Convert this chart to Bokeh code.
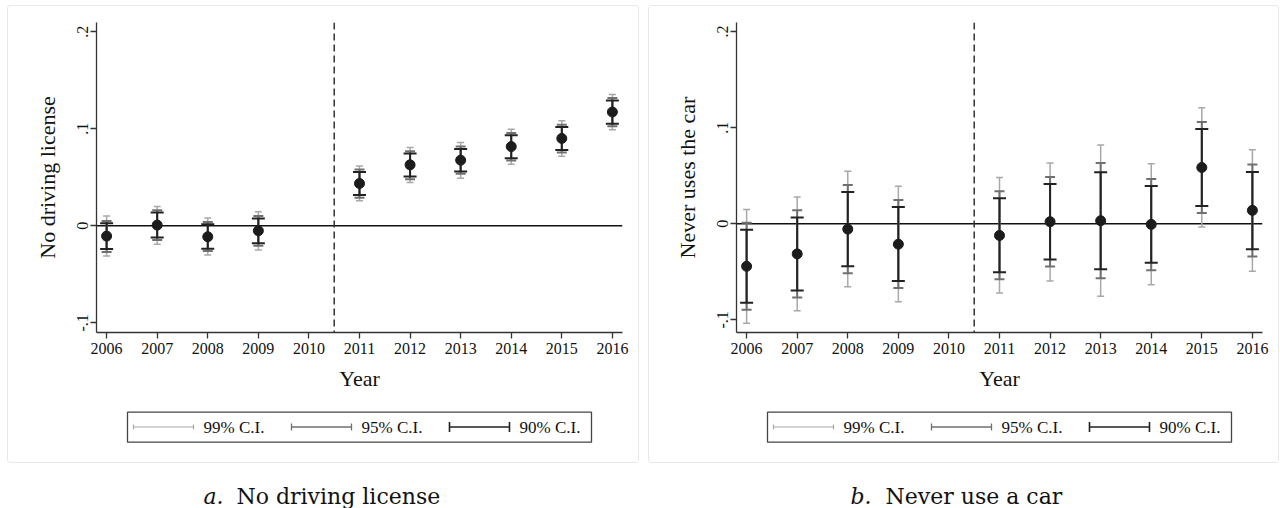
from bokeh.plotting import figure
from bokeh.layouts import row, column
from bokeh.models import (ColumnDataSource, Whisker, TeeHead, Span, Range1d, FixedTicker)
from bokeh.core.properties import value
from bokeh.embed import file_html
from bokeh.resources import INLINE

# ---------------- data ----------------
years = [2006, 2007, 2008, 2009, 2011, 2012, 2013, 2014, 2015, 2016]
xticks = [2006, 2007, 2008, 2009, 2010, 2011, 2012, 2013, 2014, 2015, 2016]
ytick_vals = [-0.1, 0.0, 0.1, 0.2]
ytick_labels = ["-.1", "0", ".1", ".2"]
ci_labels = ["99% C.I.", "95% C.I.", "90% C.I."]

# panel a: No driving license
coef_a = [-0.0106, 0.0007, -0.0113, -0.0051, 0.0436, 0.0628, 0.0676, 0.0816, 0.0900, 0.1172]
lo90_a = [-0.0240, -0.0120, -0.0236, -0.0180, 0.0318, 0.0508, 0.0560, 0.0696, 0.0782, 0.1052]
hi90_a = [0.0025, 0.0137, 0.0017, 0.0076, 0.0555, 0.0744, 0.0792, 0.0932, 0.1018, 0.1290]
lo95_a = [-0.0270, -0.0147, -0.0260, -0.0205, 0.0290, 0.0480, 0.0536, 0.0672, 0.0755, 0.1025]
hi95_a = [0.0050, 0.0160, 0.0038, 0.0100, 0.0580, 0.0768, 0.0816, 0.0957, 0.1042, 0.1316]
lo99_a = [-0.0310, -0.0190, -0.0300, -0.0250, 0.0257, 0.0447, 0.0490, 0.0635, 0.0717, 0.0990]
hi99_a = [0.0100, 0.0200, 0.0080, 0.0144, 0.0616, 0.0806, 0.0857, 0.0994, 0.1083, 0.1353]

# panel b: Never uses the car
coef_b = [-0.0443, -0.0314, -0.0056, -0.0213, -0.0122, 0.0021, 0.0031, -0.0007, 0.0585, 0.0139]
lo90_b = [-0.0822, -0.0694, -0.0443, -0.0596, -0.0505, -0.0373, -0.0474, -0.0407, 0.0184, -0.0265]
hi90_b = [-0.0063, 0.0066, 0.0330, 0.0174, 0.0264, 0.0414, 0.0536, 0.0393, 0.0985, 0.0539]
lo95_b = [-0.0896, -0.0767, -0.0516, -0.0669, -0.0578, -0.0446, -0.0568, -0.0484, 0.0111, -0.0342]
hi95_b = [0.0010, 0.0139, 0.0403, 0.0247, 0.0337, 0.0487, 0.0633, 0.0466, 0.1058, 0.0616]
lo99_b = [-0.1035, -0.0906, -0.0655, -0.0812, -0.0721, -0.0596, -0.0756, -0.0634, -0.0035, -0.0495]
hi99_b = [0.0149, 0.0278, 0.0546, 0.0390, 0.0480, 0.0633, 0.0818, 0.0623, 0.1208, 0.0769]

# ---------------- styles ----------------
SERIF = "Liberation Serif"
CAP_FONT = "DejaVu Serif"
C99, C95, C90 = "#a8a8a8", "#707070", "#222222"
BOX = "#e9e9e9"
BL, BR = 96, 18   # frame borders (px) shared by the stacked figures


def main_plot(coef, lo90, hi90, lo95, hi95, lo99, hi99, ylabel, yr):
    p = figure(width=640, height=400, output_backend="svg", toolbar_location=None,
               x_range=Range1d(2005.8, 2016.2), y_range=Range1d(*yr),
               min_border_left=BL, min_border_right=BR, min_border_top=22, min_border_bottom=68)
    p.outline_line_color = None
    p.xgrid.visible = False
    p.ygrid.visible = False
    p.xaxis.ticker = FixedTicker(ticks=xticks)
    p.yaxis.ticker = FixedTicker(ticks=ytick_vals)
    p.yaxis.major_label_overrides = {v: l for v, l in zip(ytick_vals, ytick_labels)}
    p.yaxis.major_label_orientation = "vertical"
    for ax in (p.xaxis[0], p.yaxis[0]):
        ax.axis_line_color = "#333333"
        ax.axis_line_width = 1.3
        ax.major_tick_line_color = "#333333"
        ax.major_tick_line_width = 1.3
        ax.major_tick_out = 6
        ax.major_tick_in = 0
        ax.minor_tick_out = 0
        ax.minor_tick_in = 0
        ax.major_label_text_font = SERIF
        ax.major_label_text_font_size = "16px"
        ax.major_label_text_color = "#111111"
        ax.axis_label_text_font = SERIF
        ax.axis_label_text_font_size = "22px"
        ax.axis_label_text_font_style = "normal"
        ax.axis_label_text_color = "#111111"
    p.xaxis.axis_label = "Year"
    p.yaxis.axis_label = ylabel
    p.xaxis.major_label_standoff = 4
    p.xaxis.axis_label_standoff = 9
    p.yaxis.major_label_standoff = 2
    p.yaxis.axis_label_standoff = 15

    p.add_layout(Span(location=0, dimension="width", line_color="#111111", line_width=1.5, level="underlay"))
    p.add_layout(Span(location=2010.5, dimension="height", line_color="#333333", line_width=1.5,
                      line_dash="7 4", level="underlay"))

    src = ColumnDataSource(dict(year=years, coef=coef, lo90=lo90, hi90=hi90,
                                lo95=lo95, hi95=hi95, lo99=lo99, hi99=hi99))
    for lo, hi, col, lw, cap in (("lo99", "hi99", C99, 1.5, 7),
                                 ("lo95", "hi95", C95, 2.0, 10),
                                 ("lo90", "hi90", C90, 2.0, 13)):
        p.add_layout(Whisker(source=src, base="year", lower=lo, upper=hi, dimension="height",
                             line_color=col, line_width=lw, level="underlay",
                             upper_head=TeeHead(size=cap, line_color=col, line_width=lw),
                             lower_head=TeeHead(size=cap, line_color=col, line_width=lw)))
    p.scatter("year", "coef", source=src, size=10, color="#1c1c1c")
    return p


def lower_plot(letter, caption, letter_x, caption_x):
    # pixel-like layout space for legend and caption (x in page px, y grows downward)
    q = figure(width=640, height=108, output_backend="svg", toolbar_location=None,
               x_axis_type=None, y_axis_type=None,
               x_range=Range1d(BL, 640 - BR), y_range=Range1d(108, 0),
               min_border_left=BL, min_border_right=BR, min_border_top=0, min_border_bottom=0)
    q.xgrid.visible = False
    q.ygrid.visible = False
    q.outline_line_color = None
    # legend box
    q.quad(left=[127], right=[591], top=[11.7], bottom=[41.7], fill_alpha=0,
           line_color="#444444", line_width=1.3)
    ly = 26.5
    starts = [133, 291, 449]
    for i, (col, lw, cap) in enumerate(zip((C99, C95, C90), (1.2, 1.3, 1.6), (5, 7, 10))):
        x0 = starts[i]
        x1 = x0 + 60
        q.segment(x0=[x0, x0, x1], y0=[ly, ly - cap / 2, ly - cap / 2],
                  x1=[x1, x0, x1], y1=[ly, ly + cap / 2, ly + cap / 2],
                  line_color=col, line_width=lw)
        q.text(x=[x1 + 10], y=[ly], text=[ci_labels[i]], text_font=value(SERIF),
               text_font_size="17px", text_color="#111111", text_baseline="middle",
               text_align="left")
    q.text(x=[letter_x], y=[96], text=[letter], text_font=value(CAP_FONT), text_font_size="22px",
           text_font_style="italic", text_color="#111111", text_baseline="alphabetic")
    q.text(x=[caption_x], y=[96], text=[caption], text_font=value(CAP_FONT), text_font_size="22px",
           text_color="#111111", text_baseline="alphabetic")
    return q


def box_css(left):
    return (":host { position: relative; }\n"
            ":host::after { content: ''; position: absolute; left: %dpx; top: 5px; width: %dpx; "
            "height: 458px; border: 1.2px solid %s; border-radius: 3px; box-sizing: border-box; "
            "pointer-events: none; }" % (left, 639 - left, BOX))


pa = main_plot(coef_a, lo90_a, hi90_a, lo95_a, hi95_a, lo99_a, hi99_a,
               "No driving license", (-0.1099, 0.2094))
pb = main_plot(coef_b, lo90_b, hi90_b, lo95_b, hi95_b, lo99_b, hi99_b,
               "Never uses the car", (-0.1132, 0.2094))
qa = lower_plot("a.", "No driving license", 203, 236)
qb = lower_plot("b.", "Never use a car", 210, 245)

ca = column(pa, qa, stylesheets=[box_css(7)])
cb = column(pb, qb, stylesheets=[box_css(8)])

layout = row(ca, cb)
open("out.html", "w").write(file_html(layout, INLINE))
